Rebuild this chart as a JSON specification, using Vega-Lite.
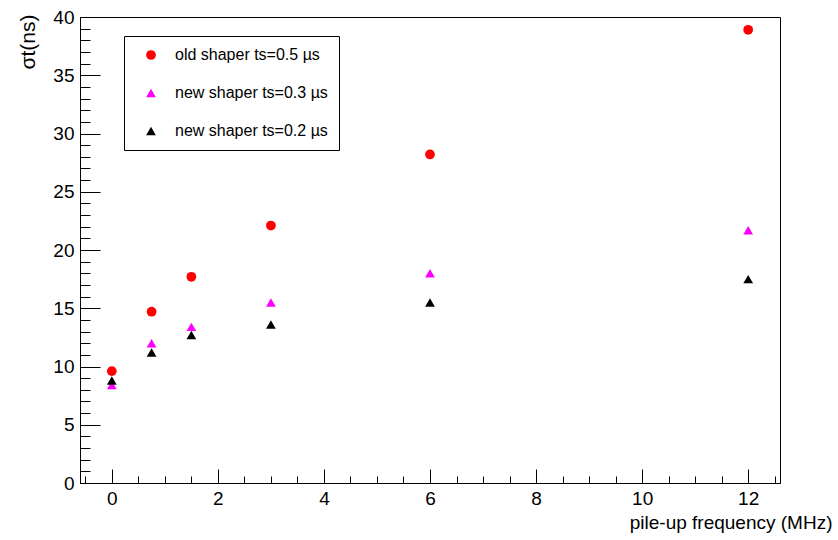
{
  "$schema": "https://vega.github.io/schema/vega-lite/v6.json",
  "width": 700,
  "height": 466,
  "autosize": "none",
  "padding": {"left": 80, "top": 17, "right": 58, "bottom": 57},
  "background": "white",
  "config": {
    "font": "Liberation Sans",
    "view": {"stroke": "black", "strokeWidth": 1}
  },
  "data": {
    "values": [
      {"f": 0, "sigma": 9.6, "series": "old shaper ts=0.5 µs"},
      {"f": 0.75, "sigma": 14.7, "series": "old shaper ts=0.5 µs"},
      {"f": 1.5, "sigma": 17.7, "series": "old shaper ts=0.5 µs"},
      {"f": 3, "sigma": 22.1, "series": "old shaper ts=0.5 µs"},
      {"f": 6, "sigma": 28.2, "series": "old shaper ts=0.5 µs"},
      {"f": 12, "sigma": 38.9, "series": "old shaper ts=0.5 µs"},
      {"f": 0, "sigma": 8.4, "series": "new shaper ts=0.3 µs"},
      {"f": 0.75, "sigma": 12.0, "series": "new shaper ts=0.3 µs"},
      {"f": 1.5, "sigma": 13.4, "series": "new shaper ts=0.3 µs"},
      {"f": 3, "sigma": 15.5, "series": "new shaper ts=0.3 µs"},
      {"f": 6, "sigma": 18.0, "series": "new shaper ts=0.3 µs"},
      {"f": 12, "sigma": 21.7, "series": "new shaper ts=0.3 µs"},
      {"f": 0, "sigma": 8.8, "series": "new shaper ts=0.2 µs"},
      {"f": 0.75, "sigma": 11.2, "series": "new shaper ts=0.2 µs"},
      {"f": 1.5, "sigma": 12.7, "series": "new shaper ts=0.2 µs"},
      {"f": 3, "sigma": 13.6, "series": "new shaper ts=0.2 µs"},
      {"f": 6, "sigma": 15.5, "series": "new shaper ts=0.2 µs"},
      {"f": 12, "sigma": 17.5, "series": "new shaper ts=0.2 µs"}
    ]
  },
  "mark": {"type": "point", "filled": true, "opacity": 1, "size": 95},
  "encoding": {
    "x": {
      "field": "f",
      "type": "quantitative",
      "scale": {"domain": [-0.6, 12.6], "nice": false, "zero": false},
      "axis": {
        "values": [-0.5, 0, 0.5, 1, 1.5, 2, 2.5, 3, 3.5, 4, 4.5, 5, 5.5, 6, 6.5, 7, 7.5, 8, 8.5, 9, 9.5, 10, 10.5, 11, 11.5, 12, 12.5],
        "labelExpr": "datum.value % 2 === 0 ? format(datum.value, 'd') : ''",
        "tickSize": {"condition": {"test": "datum.value % 2 === 0", "value": -14}, "value": -7},
        "tickColor": "black",
        "domainColor": "black",
        "grid": false,
        "labelFontSize": 19,
        "labelColor": "black",
        "labelPadding": 20,
        "labelOverlap": false,
        "labelFlush": false,
        "title": "pile-up frequency (MHz)",
        "titleFontSize": 19,
        "titleFontWeight": "normal",
        "titleColor": "black",
        "titleAnchor": "end",
        "titleAlign": "right",
        "titleBaseline": "middle",
        "titleX": 752,
        "titleY": 39
      }
    },
    "y": {
      "field": "sigma",
      "type": "quantitative",
      "scale": {"domain": [0, 40], "nice": false},
      "axis": {
        "values": [0,1,2,3,4,5,6,7,8,9,10,11,12,13,14,15,16,17,18,19,20,21,22,23,24,25,26,27,28,29,30,31,32,33,34,35,36,37,38,39,40],
        "labelExpr": "datum.value % 5 === 0 ? datum.label : ''",
        "tickSize": {"condition": {"test": "datum.value % 5 === 0", "value": -20}, "value": -10},
        "tickColor": "black",
        "domainColor": "black",
        "grid": false,
        "labelFontSize": 19,
        "labelColor": "black",
        "labelPadding": 26,
        "labelOverlap": false,
        "labelFlush": false,
        "title": "σt(ns)",
        "titleFontSize": 21,
        "titleFontWeight": "normal",
        "titleColor": "black",
        "titleAnchor": "end",
        "titleAlign": "right",
        "titleX": -42,
        "titleY": -3
      }
    },
    "color": {
      "field": "series",
      "type": "nominal",
      "scale": {
        "domain": ["old shaper ts=0.5 µs", "new shaper ts=0.3 µs", "new shaper ts=0.2 µs"],
        "range": ["#ff0000", "#ff00ff", "#000000"]
      },
      "legend": {
        "orient": "none",
        "legendX": 44,
        "legendY": 19,
        "title": null,
        "strokeColor": "black",
        "fillColor": "white",
        "padding": 11,
        "rowPadding": 22,
        "symbolOffset": 8,
        "labelOffset": 16,
        "labelFontSize": 16,
        "labelColor": "black",
        "symbolSize": 95,
        "symbolStrokeWidth": 0
      }
    },
    "shape": {
      "field": "series",
      "type": "nominal",
      "scale": {
        "domain": ["old shaper ts=0.5 µs", "new shaper ts=0.3 µs", "new shaper ts=0.2 µs"],
        "range": ["circle", "triangle-up", "triangle-up"]
      },
      "legend": null
    }
  }
}
